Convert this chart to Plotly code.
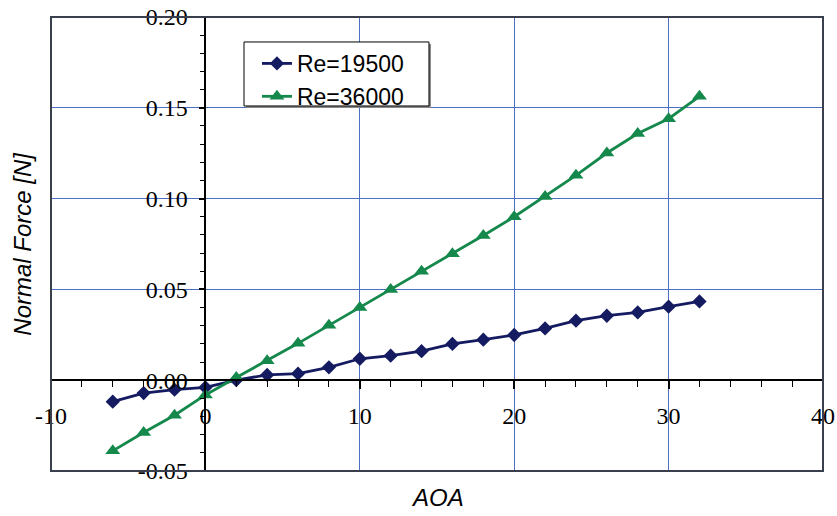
import plotly.graph_objects as go

aoa = [-6, -4, -2, 0, 2, 4, 6, 8, 10, 12, 14, 16, 18, 20, 22, 24, 26, 28, 30, 32]
re19500 = [-0.0118, -0.0071, -0.0052, -0.0040, 0.0001, 0.0029, 0.0036, 0.0071, 0.0118,
           0.0135, 0.0160, 0.0200, 0.0223, 0.0249, 0.0285, 0.0328, 0.0355, 0.0373, 0.0405, 0.0434]
re36000 = [-0.0389, -0.0288, -0.0193, -0.0081, 0.0015, 0.0107, 0.0203, 0.0302, 0.0401,
           0.0500, 0.0600, 0.0696, 0.0797, 0.0900, 0.1012, 0.1128, 0.1251, 0.1358, 0.1440, 0.1563]

x_ticks = [-10, 0, 10, 20, 30, 40]
x_ticktext = ["-10", "0", "10", "20", "30", "40"]
y_ticks = [-0.05, 0.00, 0.05, 0.10, 0.15, 0.20]
y_ticktext = ["-0.05", "0.00", "0.05", "0.10", "0.15", "0.20"]

x_title = "AOA"
y_title = "Normal Force [N]"

navy = "#141b60"
green = "#15884c"
grid = "#4d6fc2"
tickfont = dict(family="Liberation Serif", size=24, color="black")

fig = go.Figure()
fig.add_trace(go.Scatter(x=aoa, y=re19500, name="Re=19500", mode="lines+markers",
                         line=dict(color=navy, width=2.8),
                         marker=dict(symbol="diamond", size=11, color=navy)))
fig.add_trace(go.Scatter(x=aoa, y=re36000, name="Re=36000", mode="lines+markers",
                         line=dict(color=green, width=2.8),
                         marker=dict(symbol="triangle-up", size=13, color=green)))

xr = [-10, 40]
yr = [-0.05, 0.20]
xpos = (0 - yr[0]) / (yr[1] - yr[0])
ypos = (0 - xr[0]) / (xr[1] - xr[0])

fig.update_layout(
    width=837, height=516,
    margin=dict(l=51, r=14, t=17, b=45, autoexpand=False),
    paper_bgcolor="white", plot_bgcolor="white",
    showlegend=True,
    legend=dict(x=0.2668, y=0.945, xanchor="left", yanchor="top",
                bgcolor="rgba(0,0,0,0)", borderwidth=0,
                font=dict(family="Liberation Sans", size=23, color="black")),
    xaxis=dict(range=xr, domain=[0, 1], anchor="free", position=xpos, automargin=False,
               tickvals=x_ticks, ticktext=x_ticktext, tickfont=tickfont,
               ticks="outside", ticklen=8, tickwidth=1.5, tickcolor="black",
               ticklabelstandoff=6, ticklabeloverflow="allow",
               showline=True, linecolor="black", linewidth=1.5,
               showgrid=True, gridcolor=grid, gridwidth=1, zeroline=False,
               minor=dict(dtick=2, ticks="outside", ticklen=6, tickcolor="black",
                          tickwidth=1, showgrid=False)),
    yaxis=dict(range=yr, domain=[0, 1], anchor="free", position=ypos, automargin=False,
               tickvals=y_ticks, ticktext=y_ticktext, tickfont=tickfont,
               ticks="outside", ticklen=6, tickwidth=1.5, tickcolor="black",
               ticklabelstandoff=6, ticklabeloverflow="allow",
               showline=True, linecolor="black", linewidth=1.5,
               showgrid=True, gridcolor=grid, gridwidth=1, zeroline=False,
               minor=dict(dtick=0.01, ticks="outside", ticklen=5, tickcolor="black",
                          tickwidth=1, showgrid=False)),
    shapes=[
        dict(type="rect", xref="paper", yref="paper", x0=0, x1=1, y0=0, y1=1,
             line=dict(color="#3a3f4e", width=2), layer="above"),
        dict(type="rect", xref="paper", yref="paper", x0=0.2526, x1=0.4922,
             y0=0.7996, y1=0.9405, line=dict(width=0), fillcolor="#8a8a8a", layer="above"),
        dict(type="rect", xref="paper", yref="paper", x0=0.250, x1=0.4896,
             y0=0.804, y1=0.945, line=dict(color="black", width=1),
             fillcolor="white", layer="above"),
    ],
    annotations=[
        dict(text="<i>" + x_title + "</i>", xref="paper", yref="paper", x=0.5, y=-0.058,
             xanchor="center", yanchor="middle", showarrow=False,
             font=dict(family="Liberation Sans", size=24, color="black")),
        dict(text="<i>" + y_title + "</i>", xref="paper", yref="paper", x=-0.038, y=0.5,
             xanchor="center", yanchor="middle", showarrow=False, textangle=-90,
             font=dict(family="Liberation Sans", size=24, color="black")),
    ],
)

fig.write_html(
    "out.html",
    config={"displayModeBar": False},
    post_script="document.body.style.margin='0';document.body.style.overflow='hidden';",
)
